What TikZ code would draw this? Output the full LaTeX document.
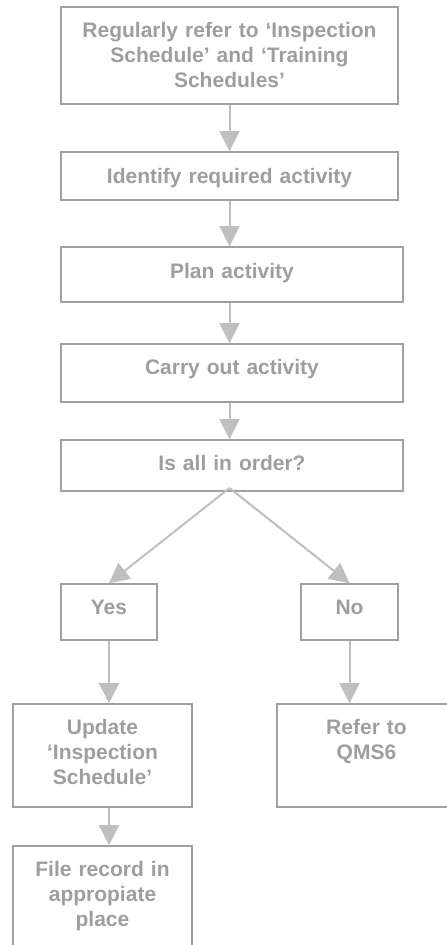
\documentclass[tikz,border=0pt]{standalone}
\usepackage{fontspec}
\setmainfont{Liberation Sans}
\usetikzlibrary{arrows.meta,calc}
\definecolor{framegray}{RGB}{160,160,160}
\definecolor{flowgray}{RGB}{191,191,191}
\definecolor{labelgray}{RGB}{158,158,158}
\begin{document}
\begin{tikzpicture}[x=1pt,y=-1pt,
  box/.style={draw=framegray, line width=1.6pt, rectangle, inner sep=0pt},
  boxtext/.style={anchor=base, text=labelgray, inner sep=0pt, align=center,
    font=\bfseries\fontsize{21}{25}\selectfont},
  flow/.style={draw=flowgray, line width=2pt, -{Triangle[length=20pt,width=20pt]}}]
\useasboundingbox (0,0) rectangle (447,945);
\clip (0,0) rectangle (447,945);

% process boxes
\node[box, minimum width=337pt, minimum height=97pt] (b1) at (229.5,55.5) {};
\node[box, minimum width=337pt, minimum height=48pt] (b2) at (229.5,176) {};
\node[box, minimum width=342pt, minimum height=55pt] (b3) at (232,274.5) {};
\node[box, minimum width=342pt, minimum height=58pt] (b4) at (232,373) {};
\node[box, minimum width=342pt, minimum height=51pt] (b5) at (232,465.5) {};
\node[box, minimum width=96pt, minimum height=56pt] (yes) at (109,612) {};
\node[box, minimum width=97pt, minimum height=56pt] (no) at (349.5,612) {};
\node[box, minimum width=179pt, minimum height=103pt] (upd) at (102.5,755.5) {};
\node[box, minimum width=179pt, minimum height=103pt] (ref) at (366.5,755.5) {};
\node[box, minimum width=179pt, minimum height=103pt] (file) at (102.5,897.5) {};

% box texts, first baseline 31pt below the top edge
\node[boxtext, text width=330pt] (t1) at ($(b1.north)+(0,31)$)
  {Regularly refer to ‘Inspection\\Schedule’ and ‘Training\\Schedules’};
\node[boxtext, text width=330pt] (t2) at ($(b2.north)+(0,32)$) {Identify required activity};
\node[boxtext, text width=330pt] (t3) at ($(b3.north)+(0,32)$) {Plan activity};
\node[boxtext, text width=330pt] (t4) at ($(b4.north)+(0,31)$) {Carry out activity};
\node[boxtext, text width=330pt] (t5) at ($(b5.north)+(0,31)$) {Is all in order?};
\node[boxtext, text width=90pt] (t6) at ($(yes.north)+(0,31)$) {Yes};
\node[boxtext, text width=90pt] (t7) at ($(no.north)+(0,31)$) {No};
\node[boxtext, text width=170pt] (t8) at ($(upd.north)+(0,31)$)
  {Update\\‘Inspection\\Schedule’};
\node[boxtext, text width=170pt] (t9) at ($(ref.north)+(0,31)$) {Refer to\\QMS6};
\node[boxtext, text width=170pt] (t10) at ($(file.north)+(0,31)$)
  {File record in\\appropiate\\place};

% connectors
\draw[flow] (b1.south) -- (b1.south |- b2.north);
\draw[flow] (b2.south) -- (b2.south |- b3.north);
\draw[flow] (b2.south |- b3.south) -- (b2.south |- b4.north);
\draw[flow] (b2.south |- b4.south) -- (b2.south |- b5.north);
\coordinate (split) at (229.5,488);
\draw[flow] (split) -- (yes.north);
\draw[flow] (split) -- (no.north);
\draw[flow] (yes.south) -- (yes.south |- upd.north);
\draw[flow] (no.south) -- (no.south |- ref.north);
\draw[flow] (yes.south |- upd.south) -- (yes.south |- file.north);
\end{tikzpicture}
\end{document}
